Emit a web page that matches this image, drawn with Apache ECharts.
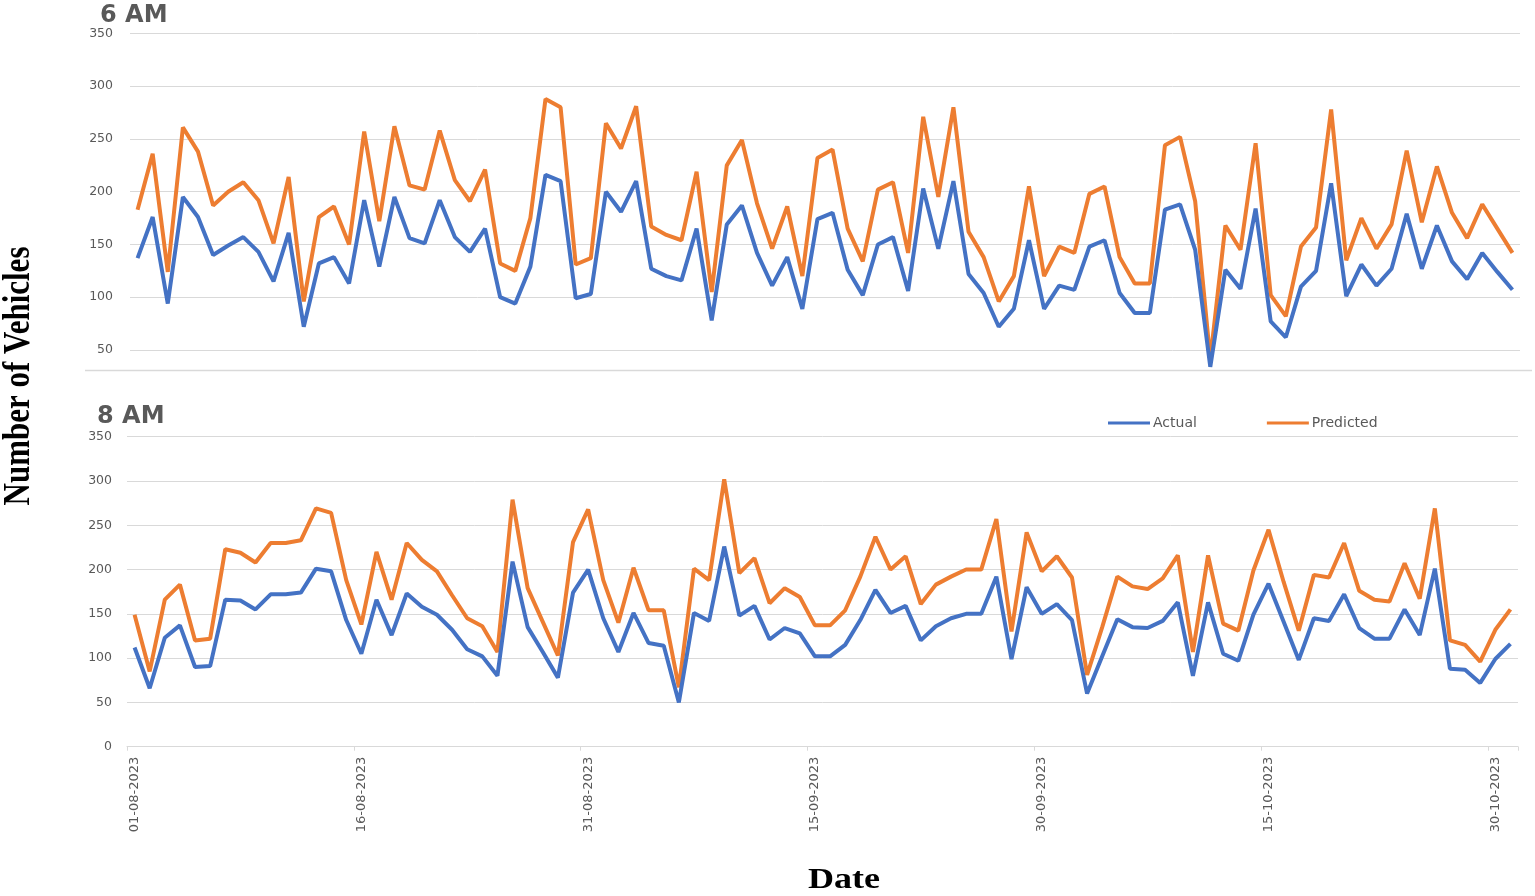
<!DOCTYPE html>
<html>
<head>
<meta charset="utf-8">
<script src="https://cdn.jsdelivr.net/npm/echarts@6/dist/echarts.min.js"></script>
<style>
html,body{margin:0;padding:0;background:#fff;}
#chart{width:1535px;height:896px;}
</style>
</head>
<body>
<div id="chart"></div>
<script>
// ---- data ----
var dates = [
'01-08-2023','02-08-2023','03-08-2023','04-08-2023','05-08-2023','06-08-2023','07-08-2023','08-08-2023','09-08-2023','10-08-2023',
'11-08-2023','12-08-2023','13-08-2023','14-08-2023','15-08-2023','16-08-2023','17-08-2023','18-08-2023','19-08-2023','20-08-2023',
'21-08-2023','22-08-2023','23-08-2023','24-08-2023','25-08-2023','26-08-2023','27-08-2023','28-08-2023','29-08-2023','30-08-2023',
'31-08-2023','01-09-2023','02-09-2023','03-09-2023','04-09-2023','05-09-2023','06-09-2023','07-09-2023','08-09-2023','09-09-2023',
'10-09-2023','11-09-2023','12-09-2023','13-09-2023','14-09-2023','15-09-2023','16-09-2023','17-09-2023','18-09-2023','19-09-2023',
'20-09-2023','21-09-2023','22-09-2023','23-09-2023','24-09-2023','25-09-2023','26-09-2023','27-09-2023','28-09-2023','29-09-2023',
'30-09-2023','01-10-2023','02-10-2023','03-10-2023','04-10-2023','05-10-2023','06-10-2023','07-10-2023','08-10-2023','09-10-2023',
'10-10-2023','11-10-2023','12-10-2023','13-10-2023','14-10-2023','15-10-2023','16-10-2023','17-10-2023','18-10-2023','19-10-2023',
'20-10-2023','21-10-2023','22-10-2023','23-10-2023','24-10-2023','25-10-2023','26-10-2023','27-10-2023','28-10-2023','29-10-2023',
'30-10-2023','31-10-2023'
];

var actual6 = [137,176,94,195,176,140,149,157,143,115,161,72,132,138,113,192,129,195,156,151,
192,157,143,165,100,94,129,216,210,99,103,200,181,210,127,120,116,165,78,169,
187,142,111,138,89,174,180,126,102,150,157,106,203,146,210,122,104,72,89,154,
89,111,107,148,154,104,85,85,183,188,145,34,126,108,184,77,62,110,125,208,
101,131,111,127,179,127,168,134,117,142,124,107];

var predicted6 = [183,236,124,261,238,187,200,209,192,151,214,96,176,186,150,257,172,262,206,202,
258,211,191,221,132,125,175,288,280,131,137,265,241,281,167,159,154,219,105,225,
249,189,146,186,120,232,240,165,134,202,209,142,271,195,280,162,138,96,120,205,
120,148,142,198,205,138,113,113,244,252,191,41,168,145,246,102,82,148,166,278,
135,175,146,169,239,171,224,180,156,188,165,142];

var actual8 = [112,66,123,137,90,91,166,165,155,172,172,174,201,198,143,105,166,126,173,158,
149,132,110,102,80,209,135,107,78,174,200,145,107,151,117,114,50,151,142,226,
148,159,121,134,128,102,102,115,143,177,151,159,120,136,145,150,150,192,99,180,
150,161,143,60,102,144,135,134,142,163,80,163,105,97,149,184,141,98,145,142,
172,134,122,122,155,126,201,88,87,72,99,116];

var predicted8 = [149,85,166,183,120,122,223,219,208,230,230,233,269,264,188,138,220,166,230,211,
198,171,145,136,107,279,179,141,103,231,268,188,140,202,154,154,67,201,188,302,
196,213,162,179,169,137,137,154,192,237,200,215,161,183,192,200,200,257,130,242,
198,215,191,81,135,192,181,178,190,216,107,216,139,131,199,245,186,131,194,191,
230,176,166,164,207,167,269,120,115,96,132,155];

var ticks6 = [50,100,150,200,250,300,350];
var seriesNames = ['Actual','Predicted'];
var panelTitles = ['6 AM','8 AM'];
var axisTitles = ['Number of Vehicles','Date'];

// ---- styles ----
var BLUE = '#4472C4', ORANGE = '#ED7D31', GRID = '#d9d9d9', TXT = '#595959';
var sansFont = "'DejaVu Sans', sans-serif";
var serifFont = "'Liberation Serif', 'Times New Roman', serif";

var chart = echarts.init(document.getElementById('chart'), null, {renderer:'canvas'});

var option = {
  backgroundColor: '#fff',
  animation: false,
  title: [
    {text: panelTitles[0], left: 95, top: -1, textStyle:{fontFamily:sansFont, fontWeight:'bold', fontSize:24, color:TXT}},
    {text: panelTitles[1], left: 92, top: 400, textStyle:{fontFamily:sansFont, fontWeight:'bold', fontSize:24, color:TXT}}
  ],
  legend: {
    data: [{name: seriesNames[0]}, {name: seriesNames[1]}],
    left: 1103, top: 411,
    icon: 'rect', itemWidth: 42, itemHeight: 3, itemGap: 70,
    textStyle: {fontFamily: sansFont, fontSize: 14, color: TXT, padding:[0,0,0,-2]}
  },
  grid: [
    {left: 130, right: 15, top: 33.5, height: 336.5},
    {left: 127, right: 17, top: 436.7, height: 310}
  ],
  xAxis: [
    {type:'category', gridIndex:0, data: dates, boundaryGap:true,
     axisLine:{show:false}, axisTick:{show:false}, axisLabel:{show:false}, splitLine:{show:false}},
    {type:'category', gridIndex:1, data: dates, boundaryGap:true,
     axisLine:{show:true, lineStyle:{color:GRID, width:1}},
     axisTick:{show:true, interval:14, length:4, lineStyle:{color:GRID}},
     axisLabel:{show:true, interval:14, rotate:90, margin:10, fontFamily:sansFont, fontSize:13, color:TXT},
     splitLine:{show:false}}
  ],
  yAxis: [
    {type:'value', gridIndex:0, min:31, max:350,
     axisLine:{show:false}, axisTick:{show:false, customValues: ticks6},
     axisLabel:{customValues: ticks6, margin:17, fontFamily:sansFont, fontSize:12.5, color:TXT},
     splitLine:{show:true, lineStyle:{color:GRID, width:1}}},
    {type:'value', gridIndex:1, min:0, max:350, interval:50,
     axisLine:{show:false}, axisTick:{show:false},
     axisLabel:{margin:15, fontFamily:sansFont, fontSize:12.5, color:TXT},
     splitLine:{show:true, lineStyle:{color:GRID, width:1}}}
  ],
  series: [
    {name: seriesNames[0], type:'line', xAxisIndex:0, yAxisIndex:0, data: actual6, showSymbol:false, symbol:'none', lineStyle:{color:BLUE, width:4}, itemStyle:{color:BLUE}, z:3},
    {name: seriesNames[1], type:'line', xAxisIndex:0, yAxisIndex:0, data: predicted6, showSymbol:false, symbol:'none', lineStyle:{color:ORANGE, width:4}, itemStyle:{color:ORANGE}, z:2},
    {name: seriesNames[0], type:'line', xAxisIndex:1, yAxisIndex:1, data: actual8, showSymbol:false, symbol:'none', lineStyle:{color:BLUE, width:4}, itemStyle:{color:BLUE}, z:3},
    {name: seriesNames[1], type:'line', xAxisIndex:1, yAxisIndex:1, data: predicted8, showSymbol:false, symbol:'none', lineStyle:{color:ORANGE, width:4}, itemStyle:{color:ORANGE}, z:2}
  ],
  graphic: [
    {type:'line', shape:{x1:85, y1:370.5, x2:1532, y2:370.5}, style:{stroke:GRID, lineWidth:1.5}, z:1},
    {type:'text', x:19, y:376, rotation: Math.PI/2, scaleY: 1.2,
     style:{text: axisTitles[0], fontFamily:serifFont, fontWeight:'bold', fontSize:31, fill:'#000', align:'center', verticalAlign:'middle'}},
    {type:'text', x:844, y:880, scaleX: 1.2,
     style:{text: axisTitles[1], fontFamily:serifFont, fontWeight:'bold', fontSize:30, fill:'#000', align:'center', verticalAlign:'middle'}}
  ]
};
chart.setOption(option);
</script>
</body>
</html>
